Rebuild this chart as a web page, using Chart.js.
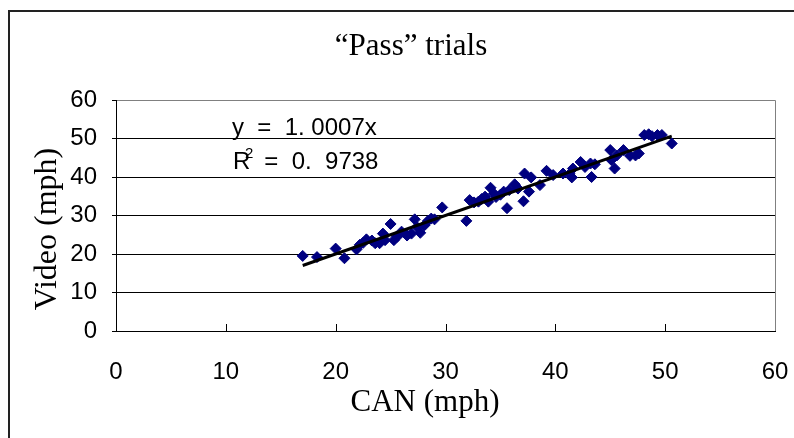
<!DOCTYPE html>
<html>
<head>
<meta charset="utf-8">
<script src="https://cdn.jsdelivr.net/npm/chart.js@4"></script>
<style>
  html, body { margin: 0; padding: 0; background: #fff; }
  canvas { display: block; }
</style>
</head>
<body>
<canvas id="passChart" width="794" height="438"></canvas>
<script>
"use strict";

// "Pass" trials: CAN speed vs video speed (mph)
const canSpeed = [
  17.0, 18.3, 20.0, 20.8, 21.9, 22.2, 22.5, 22.8, 23.3, 23.6,
  24.0, 24.3, 24.5, 25.0, 25.3, 25.6, 26.0, 26.5, 26.9, 27.2,
  27.4, 27.7, 28.1, 28.4, 28.7, 29.0, 29.7, 31.9, 32.2, 32.6,
  33.0, 33.3, 33.6, 33.9, 34.1, 34.4, 34.6, 35.0, 35.3, 35.6,
  35.8, 36.3, 36.6, 37.1, 37.2, 37.6, 37.8, 38.6, 39.2, 39.8,
  40.7, 41.3, 41.5, 41.6, 42.3, 42.7, 43.2, 43.3, 43.6, 45.0,
  45.1, 45.4, 45.6, 46.2, 46.8, 47.3, 47.6, 48.1, 48.5, 48.8,
  49.3, 49.7, 50.6,
];
const videoSpeed = [
  19.5, 19.2, 21.4, 18.9, 21.2, 22.4, 22.9, 23.8, 23.5, 22.8,
  22.8, 25.3, 23.6, 27.8, 23.6, 24.5, 25.8, 24.8, 25.3, 29.0,
  27.0, 25.5, 27.5, 28.6, 29.2, 29.0, 32.1, 28.6, 34.0, 33.4,
  33.6, 34.3, 34.9, 33.6, 37.2, 35.7, 34.8, 35.4, 36.2, 31.9,
  36.6, 38.1, 37.0, 33.7, 40.9, 36.2, 39.9, 37.9, 41.6, 40.5,
  40.9, 40.8, 39.9, 42.2, 43.9, 42.6, 43.5, 40.0, 43.3, 47.0,
  44.4, 42.2, 45.6, 47.0, 45.5, 45.6, 46.1, 50.9, 51.1, 50.6,
  50.9, 50.9, 48.7,
];
const axisTicks = [0, 10, 20, 30, 40, 50, 60];

// linear fit through origin
const trendSlope = 1.0007;
const trendR2 = 0.9738;
const trendRange = [17.0, 50.6];

const titleText = "\u201CPass\u201D trials";
const xTitle = "CAN (mph)";
const yTitle = "Video (mph)";

const serif = "'Liberation Serif', 'Times New Roman', serif";
const sans = "'Liberation Sans', Arial, sans-serif";

const points = canSpeed.map((x, i) => ({ x: x, y: videoSpeed[i] }));
const trendPoints = trendRange.map((x) => ({ x: x, y: trendSlope * x }));

const chartText = {
  id: "chartText",
  beforeDraw(chart) {
    const ctx = chart.ctx;
    const area = chart.chartArea;
    ctx.save();
    ctx.fillStyle = "#fff";
    ctx.fillRect(0, 0, chart.width, chart.height);
    // outer frame
    ctx.strokeStyle = "#222";
    ctx.lineWidth = 2;
    ctx.strokeRect(9, 11, chart.width + 10, chart.height + 10);
    // plot frame (top/right grey)
    ctx.strokeStyle = "#808080";
    ctx.lineWidth = 1;
    ctx.beginPath();
    ctx.moveTo(area.left, area.top + 0.5);
    ctx.lineTo(area.right + 0.5, area.top + 0.5);
    ctx.lineTo(area.right + 0.5, area.bottom);
    ctx.stroke();
    ctx.restore();
  },
  afterDraw(chart) {
    const ctx = chart.ctx;
    const area = chart.chartArea;
    const xScale = chart.scales.x;
    ctx.save();
    // x tick marks point into the plot
    ctx.strokeStyle = "#000";
    ctx.lineWidth = 1;
    axisTicks.slice(1, -1).forEach((v) => {
      const px = Math.round(xScale.getPixelForValue(v)) + 0.5;
      ctx.beginPath();
      ctx.moveTo(px, area.bottom);
      ctx.lineTo(px, area.bottom - 7);
      ctx.stroke();
    });

    ctx.fillStyle = "#000";
    ctx.textBaseline = "alphabetic";
    ctx.textAlign = "center";
    ctx.font = "31px " + serif;
    ctx.fillText(titleText, 411, 55);
    ctx.fillText(xTitle, 425, 411);

    ctx.save();
    ctx.translate(56, 229);
    ctx.rotate(-Math.PI / 2);
    ctx.font = "32px " + serif;
    ctx.fillText(yTitle, 0, 0);
    ctx.restore();

    // regression equation
    ctx.textAlign = "left";
    ctx.font = "24px " + sans;
    ctx.fillText("y  =  " + trendSlope.toFixed(4).replace(".", ". ") + "x", 232, 135);
    ctx.fillText("R", 233, 169);
    ctx.font = "15px " + sans;
    ctx.fillText("2", 245, 158);
    ctx.font = "24px " + sans;
    ctx.fillText("  =  " + trendR2.toFixed(4).replace(".", ".  "), 251, 169);
    ctx.restore();
  },
};

const canvas = document.getElementById("passChart");
const chart = new Chart(canvas, {
  type: "scatter",
  data: {
    datasets: [
      {
        type: "line",
        data: trendPoints,
        borderColor: "#000",
        borderWidth: 3,
        pointRadius: 0,
        fill: false,
        order: 0,
      },
      {
        data: points,
        pointStyle: "rectRot",
        pointRadius: 5.5,
        backgroundColor: "#000080",
        borderColor: "#000080",
        borderWidth: 1,
        order: 1,
      },
    ],
  },
  options: {
    responsive: false,
    animation: false,
    layout: {
      padding: { left: 0, right: 19, top: 100, bottom: 0 },
    },
    plugins: {
      legend: { display: false },
      tooltip: { enabled: false },
      title: { display: false },
    },
    scales: {
      x: {
        type: "linear",
        min: 0,
        max: 60,
        afterFit: (scale) => {
          scale.height = 107;
          scale.paddingLeft = 0;
          scale.paddingRight = 0;
        },
        afterBuildTicks: (scale) => {
          scale.ticks = axisTicks.map((v) => ({ value: v }));
        },
        grid: { drawOnChartArea: false, drawTicks: false },
        border: { color: "#000", width: 1 },
        ticks: {
          padding: 27,
          color: "#000",
          maxRotation: 0,
          font: { family: sans, size: 24 },
        },
      },
      y: {
        type: "linear",
        min: 0,
        max: 60,
        afterFit: (scale) => {
          scale.width = 116;
          scale.paddingTop = 0;
          scale.paddingBottom = 0;
        },
        afterBuildTicks: (scale) => {
          scale.ticks = axisTicks.map((v) => ({ value: v }));
        },
        grid: {
          color: (c) => (c.tick && c.tick.value === 60 ? "#808080" : "#000"),
          tickColor: "#000",
          tickLength: 4,
          lineWidth: 1,
        },
        border: { color: "#000", width: 1 },
        ticks: {
          padding: 15,
          color: "#000",
          font: { family: sans, size: 24 },
        },
      },
    },
  },
  plugins: [chartText],
});
</script>
</body>
</html>
